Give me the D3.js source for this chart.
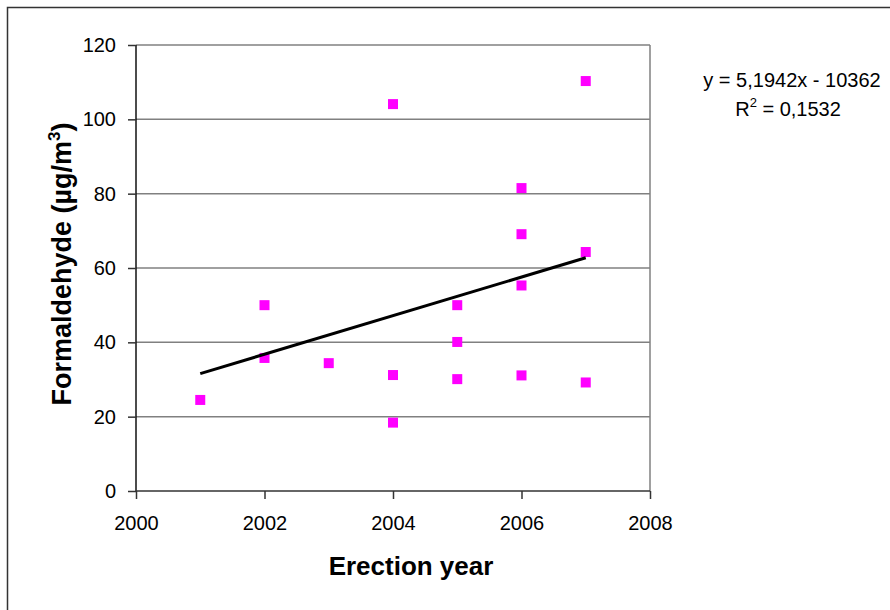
<!DOCTYPE html>
<html><head><meta charset="utf-8">
<script src="https://cdn.jsdelivr.net/npm/d3@7"></script>
<style>body{margin:0;background:#fff;} svg{display:block;font-family:"Liberation Sans",Arial,sans-serif;}</style>
</head><body>
<svg id="c" width="890" height="610"></svg>
<script>
const years = [2001, 2002, 2002, 2003, 2004, 2004, 2004, 2005, 2005, 2005, 2006, 2006, 2006, 2006, 2007, 2007, 2007];
const formaldehyde = [24.5, 50.0, 35.8, 34.4, 104.1, 31.2, 18.4, 50.0, 40.1, 30.1, 81.5, 69.1, 55.3, 31.1, 110.3, 64.3, 29.2];
const trendSlope = 5.1942, trendIntercept = -10362;
const xTicks = [2000, 2002, 2004, 2006, 2008];
const yTicks = [0, 20, 40, 60, 80, 100, 120];

const svg = d3.select("#c");
const m = {l:136, r:650, t:45, b:491};
const x = d3.scaleLinear().domain([2000, 2008]).range([m.l, m.r]);
const y = d3.scaleLinear().domain([0, 120]).range([m.b, m.t]);

// outer frame
svg.append("rect").attr("x",7.5).attr("y",7.5).attr("width",900).attr("height",620)
  .attr("fill","none").attr("stroke","#333").attr("stroke-width",1.5);

// gridlines
svg.append("g").selectAll("line").data(yTicks.filter(d=>d>0)).join("line")
  .attr("x1",m.l).attr("x2",m.r).attr("y1",d=>y(d)).attr("y2",d=>y(d))
  .attr("stroke","#808080").attr("stroke-width",1.5);
// right border of plot area
svg.append("line").attr("x1",m.r).attr("x2",m.r).attr("y1",m.t).attr("y2",m.b)
  .attr("stroke","#808080").attr("stroke-width",1.5);

// axes
const yAxis = svg.append("g").attr("transform",`translate(${m.l},0)`)
  .call(d3.axisLeft(y).tickValues(yTicks).tickSize(8).tickPadding(12));
const xAxis = svg.append("g").attr("transform",`translate(0,${m.b})`)
  .call(d3.axisBottom(x).tickValues(xTicks).tickFormat(d3.format("d")).tickSize(8).tickPadding(17));
[yAxis, xAxis].forEach(a=>{
  a.selectAll("text").attr("font-size",20).attr("fill","#000").attr("font-family","Liberation Sans, Arial, sans-serif");
  a.selectAll("line").attr("stroke","#333").attr("stroke-width",1.5);
  a.select(".domain").attr("stroke","#333").attr("stroke-width",1.5);
});
yAxis.select(".domain").attr("d",`M0,${m.t}V${m.b}`).attr("stroke","#111");
xAxis.select(".domain").attr("d",`M${m.l},0H${m.r}`);

// points
svg.append("g").selectAll("rect").data(years.map((d,i)=>[d,formaldehyde[i]])).join("rect")
  .attr("x",d=>x(d[0])-5).attr("y",d=>y(d[1])-5).attr("width",10).attr("height",10)
  .attr("fill","#ff00ff");

// trendline
const tx = [d3.min(years), d3.max(years)];
svg.append("line")
  .attr("x1",x(tx[0])).attr("y1",y(trendSlope*tx[0]+trendIntercept))
  .attr("x2",x(tx[1])).attr("y2",y(trendSlope*tx[1]+trendIntercept))
  .attr("stroke","#000").attr("stroke-width",3);

// equation
svg.append("text").attr("x",792).attr("y",87).attr("text-anchor","middle").attr("font-size",20)
  .text("y = 5,1942x - 10362");
const r2 = svg.append("text").attr("x",788).attr("y",116).attr("text-anchor","middle").attr("font-size",20);
r2.append("tspan").text("R");
r2.append("tspan").attr("dy",-9).attr("font-size",13).text("2");
r2.append("tspan").attr("dy",9).text(" = 0,1532");

// axis titles
svg.append("text").attr("x",411).attr("y",575).attr("text-anchor","middle")
  .attr("font-size",26).attr("font-weight","bold").text("Erection year");
const yt = svg.append("text").attr("transform",`translate(71,264) rotate(-90)`)
  .attr("text-anchor","middle").attr("font-size",27).attr("font-weight","bold");
yt.append("tspan").text("Formaldehyde (µg/m");
yt.append("tspan").attr("dy",-11).attr("font-size",17).text("3");
yt.append("tspan").attr("dy",11).text(")");
</script>
</body></html>
